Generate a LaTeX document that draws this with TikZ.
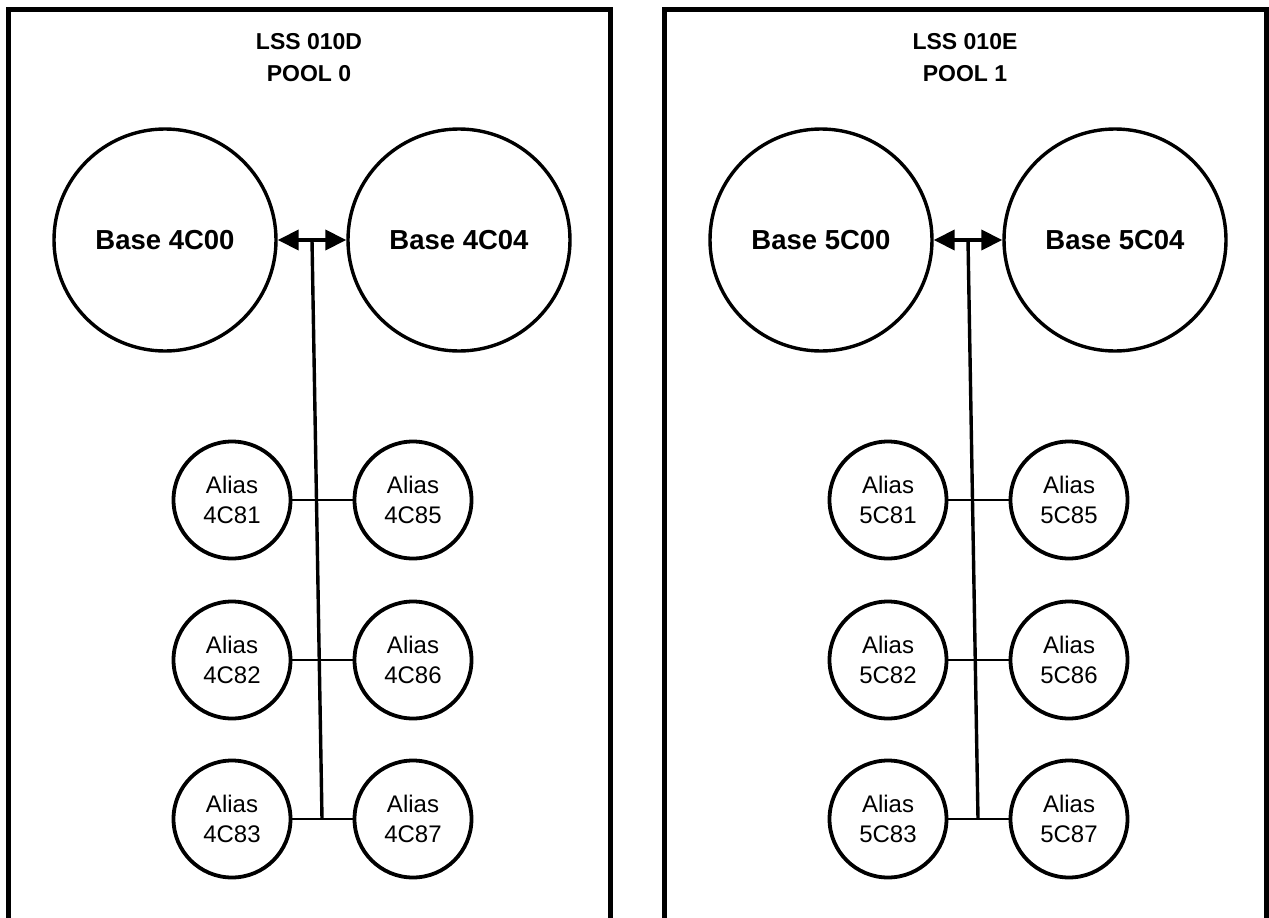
\documentclass[tikz,border=0pt]{standalone}
\usepackage{fontspec}
\setmainfont{Liberation Sans}
\usetikzlibrary{arrows.meta,calc}
\tikzset{
  frame/.style={line width=5pt},
  basec/.style={circle, draw, line width=3.4pt, minimum size=222pt, inner sep=0pt,
    font=\fontsize{27.5}{32}\selectfont\bfseries},
  aliasc/.style={circle, draw, line width=3.8pt, minimum size=117pt, inner sep=0pt,
    align=center, font=\fontsize{24}{30}\selectfont},
  titlebox/.style={align=center, font=\fontsize{23}{32}\selectfont\bfseries},
  link/.style={line width=1.6pt},
  trunk/.style={line width=3.4pt},
  dbl/.style={line width=3.8pt, {Triangle[length=21pt,width=20pt]}-{Triangle[length=21pt,width=20pt]}},
}
% #1 prefix, #2 xshift, #3 LSS letter, #4 pool number, #5 digit
\newcommand\drawpanel[5]{%
\begin{scope}[xshift=#2]
  \draw[frame] (8,940) -- (8,9) -- (610,9) -- (610,940);
  \node[titlebox] (#1-t) at (309,58) {LSS 010#3\\POOL #4};
  \node[basec] (#1-b1) at (165,240) {Base #5C00};
  \node[basec] (#1-b2) at (459,240) {Base #5C04};
  \draw[dbl] (#1-b1.east) -- (#1-b2.west);
  \coordinate (#1-top) at ($(#1-b1.east)!0.5!(#1-b2.west)$);
  \node[aliasc] (#1-a1) at (232,500) {Alias\\#5C81};
  \node[aliasc] (#1-a2) at (232,660) {Alias\\#5C82};
  \node[aliasc] (#1-a3) at (232,819) {Alias\\#5C83};
  \node[aliasc] (#1-a5) at (413,500) {Alias\\#5C85};
  \node[aliasc] (#1-a6) at (413,660) {Alias\\#5C86};
  \node[aliasc] (#1-a7) at (413,819) {Alias\\#5C87};
  \draw[link] (#1-a1.east) -- (#1-a5.west);
  \draw[link] (#1-a2.east) -- (#1-a6.west);
  \draw[link] (#1-a3.east) -- (#1-a7.west);
  \coordinate (#1-bot) at (322,819);
  \draw[trunk] (#1-top) -- (#1-bot);
\end{scope}}
\begin{document}
\begin{tikzpicture}[x=1pt,y=-1pt]
  \useasboundingbox (0,0) rectangle (1269,918);
  \clip (0,0) rectangle (1269,918);
  \fill[white] (0,0) rectangle (1269,918);
  \drawpanel{L}{0pt}{D}{0}{4}
  \drawpanel{R}{656pt}{E}{1}{5}
\end{tikzpicture}
\end{document}
